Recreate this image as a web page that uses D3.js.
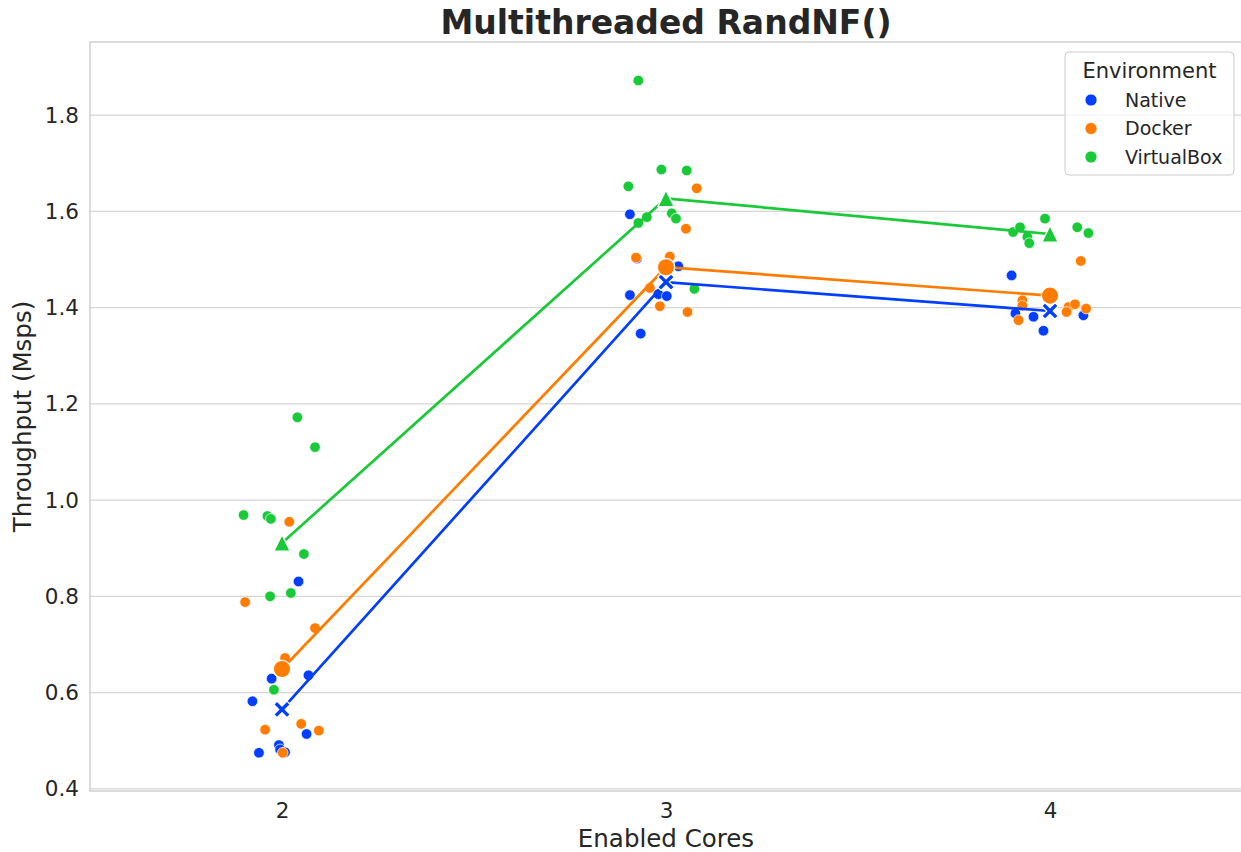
<!DOCTYPE html>
<html>
<head>
<meta charset="utf-8">
<script src="https://cdn.jsdelivr.net/npm/d3@7"></script>
<style>
  html, body { margin: 0; padding: 0; background: #fff; }
  text { font-family: "DejaVu Sans", sans-serif; }
</style>
</head>
<body>
<svg id="chart" width="1241" height="852"></svg>
<script>
// ---------- DATA ----------
const categories = [2, 3, 4];
const environments = ["Native", "Docker", "VirtualBox"];
const yTicks = [0.4, 0.6, 0.8, 1.0, 1.2, 1.4, 1.6, 1.8];

// individual runs: [enabled cores, strip jitter (category units), throughput]
const nativeRuns = [
  [2, 0.043, 0.831], [2, -0.027, 0.629], [2, 0.069, 0.636], [2, -0.077, 0.582], [2, 0.064, 0.514],
  [2, -0.060, 0.475], [2, -0.008, 0.491], [2, -0.005, 0.482], [2, 0.008, 0.476],
  [3, -0.094, 1.594], [3, -0.076, 1.502], [3, 0.032, 1.486], [3, -0.094, 1.426], [3, -0.020, 1.428],
  [3, 0.002, 1.424], [3, -0.066, 1.346],
  [4, -0.100, 1.467], [4, -0.090, 1.388], [4, -0.043, 1.381], [4, -0.017, 1.352], [4, 0.087, 1.384]
];
const dockerRuns = [
  [2, 0.019, 0.955], [2, -0.096, 0.788], [2, 0.086, 0.734], [2, 0.008, 0.672], [2, -0.044, 0.523],
  [2, 0.050, 0.535], [2, 0.096, 0.521], [2, 0.002, 0.475],
  [3, 0.080, 1.648], [3, 0.052, 1.564], [3, -0.078, 1.504], [3, 0.010, 1.506], [3, -0.042, 1.441],
  [3, -0.016, 1.403], [3, 0.056, 1.391],
  [4, 0.080, 1.497], [4, -0.072, 1.415], [4, -0.072, 1.404], [4, -0.082, 1.374], [4, 0.048, 1.401],
  [4, 0.065, 1.407], [4, 0.094, 1.398], [4, 0.043, 1.391]
];
const virtualBoxRuns = [
  [2, 0.040, 1.172], [2, 0.086, 1.110], [2, -0.100, 0.969], [2, -0.038, 0.967], [2, -0.029, 0.961],
  [2, 0.057, 0.888], [2, -0.031, 0.800], [2, 0.023, 0.807], [2, -0.021, 0.606],
  [3, -0.072, 1.872], [3, -0.012, 1.687], [3, 0.054, 1.685], [3, -0.098, 1.652], [3, -0.050, 1.588],
  [3, -0.072, 1.576], [3, 0.015, 1.596], [3, 0.026, 1.585], [3, 0.074, 1.439],
  [4, -0.096, 1.557], [4, -0.078, 1.567], [4, -0.059, 1.547], [4, -0.054, 1.534], [4, -0.013, 1.585],
  [4, 0.071, 1.567], [4, 0.100, 1.555]
];

// mean throughput per core count
const nativeMeans = [0.565, 1.453, 1.393];
const dockerMeans = [0.649, 1.484, 1.425];
const virtualBoxMeans = [0.911, 1.627, 1.553];

// ---------- STYLE ----------
const colors = { Native: "#023eff", Docker: "#ff7c00", VirtualBox: "#1ac938" };
const runsBy = { Native: nativeRuns, Docker: dockerRuns, VirtualBox: virtualBoxRuns };
const meansBy = { Native: nativeMeans, Docker: dockerMeans, VirtualBox: virtualBoxMeans };
const markerBy = { Native: "x", Docker: "circle", VirtualBox: "triangle" };

const svg = d3.select("#chart");
const plot = { left: 90, right: 1242, top: 42, bottom: 791 };

const x = d3.scaleLinear().domain([1.5, 4.5]).range([plot.left, plot.right]);
const y = d3.scaleLinear().domain([0.3955, 1.952]).range([plot.bottom, plot.top]);

const textColor = "#262626";
const gridColor = "#d5d5d5";

// gridlines
const gridG = svg.append("g");
gridG.selectAll("line").data(yTicks).join("line")
  .attr("x1", plot.left).attr("x2", plot.right)
  .attr("y1", d => y(d)).attr("y2", d => y(d))
  .attr("stroke", gridColor).attr("stroke-width", 1.1);

// spines
const sp = svg.append("g").attr("fill", "none").attr("stroke", "#cccccc").attr("stroke-width", 1.4);
sp.append("rect").attr("x", plot.left).attr("y", plot.top)
  .attr("width", plot.right - plot.left).attr("height", plot.bottom - plot.top);

// y axis tick labels (via d3 axis)
const yAxis = d3.axisLeft(y).tickValues(yTicks).tickFormat(d3.format(".1f")).tickSize(0).tickPadding(11);
const yg = svg.append("g").attr("transform", `translate(${plot.left},0)`).call(yAxis);
yg.select(".domain").remove();
yg.selectAll("text").attr("font-size", 21.5).attr("fill", textColor)
  .attr("font-family", "DejaVu Sans");

// x axis tick labels
const xAxis = d3.axisBottom(x).tickValues(categories).tickFormat(d3.format("d")).tickSize(0).tickPadding(12);
const xg = svg.append("g").attr("transform", `translate(0,${plot.bottom})`).call(xAxis);
xg.select(".domain").remove();
xg.selectAll("text").attr("font-size", 21.5).attr("fill", textColor)
  .attr("font-family", "DejaVu Sans");

// axis labels
svg.append("text").attr("x", (plot.left + plot.right) / 2).attr("y", 847)
  .attr("text-anchor", "middle").attr("font-size", 24.5).attr("fill", textColor)
  .text("Enabled Cores");
svg.append("text")
  .attr("transform", `translate(31,${(plot.top + plot.bottom) / 2}) rotate(-90)`)
  .attr("text-anchor", "middle").attr("font-size", 24.5).attr("fill", textColor)
  .text("Throughput (Msps)");

// title
svg.append("text").attr("x", (plot.left + plot.right) / 2).attr("y", 34)
  .attr("text-anchor", "middle").attr("font-size", 33).attr("font-weight", "bold")
  .attr("fill", textColor).text("Multithreaded RandNF()");

// strip points
svg.append("clipPath").attr("id", "clip").append("rect")
  .attr("x", plot.left).attr("y", plot.top).attr("width", plot.right - plot.left).attr("height", plot.bottom - plot.top);
const pts = svg.append("g").attr("clip-path", "url(#clip)");
environments.forEach(env => {
  pts.append("g").selectAll("circle").data(runsBy[env]).join("circle")
    .attr("cx", d => x(d[0] + d[1])).attr("cy", d => y(d[2])).attr("r", 5.3)
    .attr("fill", colors[env]).attr("stroke", "#fff").attr("stroke-width", 0.7);
});

// mean lines
const line = d3.line().x((d, i) => x(categories[i])).y(d => y(d));
environments.forEach(env => {
  svg.append("path").datum(meansBy[env]).attr("d", line)
    .attr("fill", "none").attr("stroke", colors[env]).attr("stroke-width", 2.7);
});

// mean markers
environments.forEach(env => {
  const g = svg.append("g");
  meansBy[env].forEach((v, i) => {
    const cx = x(categories[i]), cy = y(v);
    const m = markerBy[env];
    if (m === "circle") {
      g.append("circle").attr("cx", cx).attr("cy", cy).attr("r", 8.7)
        .attr("fill", colors[env]).attr("stroke", "#fff").attr("stroke-width", 1.3);
    } else if (m === "triangle") {
      const s = 8.2;
      g.append("path").attr("d", `M${cx},${cy - s}L${cx + s},${cy + s}L${cx - s},${cy + s}Z`)
        .attr("fill", colors[env]).attr("stroke", "#fff").attr("stroke-width", 1.3);
    } else {
      const s = 8.3, a = 3.3;
      // filled X shape
      const p = [
        [-s + a, -s], [0, -a], [s - a, -s], [s, -s + a], [a, 0], [s, s - a],
        [s - a, s], [0, a], [-s + a, s], [-s, s - a], [-a, 0], [-s, -s + a]
      ].map(q => [cx + q[0], cy + q[1]]);
      g.append("path").attr("d", "M" + p.map(q => q.join(",")).join("L") + "Z")
        .attr("fill", colors[env]).attr("stroke", "#fff").attr("stroke-width", 1.3)
        .attr("stroke-linejoin", "miter");
    }
  });
});

// legend
const lg = svg.append("g");
lg.append("rect").attr("x", 1065).attr("y", 52).attr("width", 169).attr("height", 123)
  .attr("rx", 4).attr("fill", "#fff").attr("fill-opacity", 0.8)
  .attr("stroke", "#cccccc").attr("stroke-width", 1);
lg.append("text").attr("x", 1149.5).attr("y", 78).attr("text-anchor", "middle")
  .attr("font-size", 21).attr("fill", textColor).text("Environment");
const rowY = [100, 128.5, 157];
environments.forEach((env, i) => {
  lg.append("circle").attr("cx", 1091).attr("cy", rowY[i]).attr("r", 6)
    .attr("fill", colors[env]).attr("stroke", "#fff").attr("stroke-width", 0.7);
  lg.append("text").attr("x", 1125).attr("y", rowY[i] + 6.8)
    .attr("font-size", 19).attr("fill", textColor).text(env);
});
</script>
</body>
</html>
